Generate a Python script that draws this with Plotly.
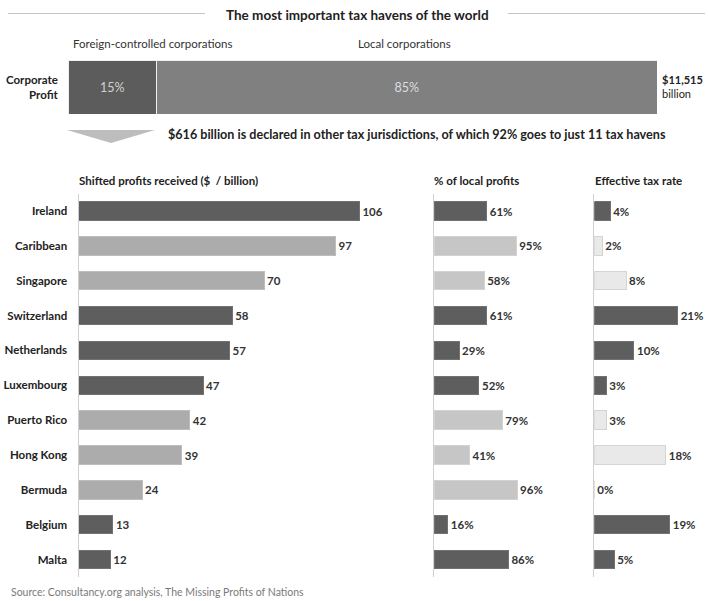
import plotly.graph_objects as go

W, H = 708, 601

# ---- data ----
countries = ["Ireland", "Caribbean", "Singapore", "Switzerland", "Netherlands",
             "Luxembourg", "Puerto Rico", "Hong Kong", "Bermuda", "Belgium", "Malta"]
shifted_profits = [106, 97, 70, 58, 57, 47, 42, 39, 24, 13, 12]
local_profit_share = [61, 95, 58, 61, 29, 52, 79, 41, 96, 16, 86]
effective_tax_rate = [4, 2, 8, 21, 10, 3, 3, 18, 0, 19, 5]
dark_group = [True, False, False, True, True, True, False, False, False, True, True]

profit_parts = ["Foreign-controlled corporations", "Local corporations"]
profit_shares = [15, 85]

FONT = "Lato"
DARK = "#5e5e5e"


def px(x):
    return x / W


def py(y):
    return 1 - y / H


def colors(light):
    return [DARK if d else light for d in dark_group]


def edge(light_edge):
    return ["#727272" if d else light_edge for d in dark_group]


fig = go.Figure()

panels = [
    ("x", "y", shifted_profits, [str(v) for v in shifted_profits], "#acacac", "#bdbdbd"),
    ("x2", "y2", local_profit_share, [f"{v}%" for v in local_profit_share], "#c6c6c6", "#d2d2d2"),
    ("x3", "y3", effective_tax_rate, [f"{v}%" for v in effective_tax_rate], "#e9e9e9", "#d4d4d4"),
]
for xa, ya, vals, txt, light, ledge in panels:
    fig.add_trace(go.Bar(
        x=vals, y=countries, orientation="h", xaxis=xa, yaxis=ya,
        marker=dict(color=colors(light), line=dict(color=edge(ledge), width=1)),
        width=0.53, text=txt, textposition="outside", cliponaxis=False,
        textfont=dict(family=FONT, size=11.5, color="#333333", weight=700),
        hoverinfo="skip", showlegend=False,
    ))

# top stacked bar
top_colors = ["#5c5c5c", "#808080"]
top_text_colors = ["#d0d0d0", "#dddddd"]
for part, share, c, tc in zip(profit_parts, profit_shares, top_colors, top_text_colors):
    fig.add_trace(go.Bar(
        x=[share], y=["Corporate Profit"], orientation="h", xaxis="x4", yaxis="y4",
        marker=dict(color=c, line=dict(color="#f0f0f0", width=1)),
        width=1, text=[f"{share}%"], textposition="inside", insidetextanchor="middle",
        textfont=dict(family=FONT, size=12.5, color=tc), hoverinfo="skip", showlegend=False,
    ))

ydom = [py(577), py(193.6)]
yax_common = dict(type="category", categoryorder="array", categoryarray=countries,
                  range=[10.5, -0.5], showgrid=False, zeroline=False,
                  showline=True, linecolor="#d0d0d0", linewidth=1, ticks="",
                  fixedrange=True)

fig.update_layout(
    width=W, height=H,
    margin=dict(l=0, r=0, t=0, b=0),
    paper_bgcolor="white", plot_bgcolor="white",
    barmode="stack",
    font=dict(family=FONT, color="#333333"),
    xaxis=dict(domain=[px(78.5), px(400)], range=[0, 321.5 / 2.65], visible=False, anchor="y"),
    xaxis2=dict(domain=[px(434), px(575)], range=[0, 141 / 0.865], visible=False, anchor="y2"),
    xaxis3=dict(domain=[px(594.3), px(704)], range=[0, 109.7 / 3.97], visible=False, anchor="y3"),
    xaxis4=dict(domain=[px(68), px(657)], range=[0, 100], visible=False, anchor="y4"),
    yaxis=dict(domain=ydom, anchor="x", showticklabels=True, ticklabelstandoff=8,
               tickfont=dict(family=FONT, size=11.5, color="#222222", weight=700), **yax_common),
    yaxis2=dict(domain=ydom, anchor="x2", showticklabels=False, **yax_common),
    yaxis3=dict(domain=ydom, anchor="x3", showticklabels=False, **yax_common),
    yaxis4=dict(domain=[py(114), py(60)], anchor="x4", range=[-0.5, 0.5], visible=False),
)

ann = []


def note(text, x, y, size=11.5, weight=400, color="#333333", xanchor="left", align="left"):
    ann.append(dict(text=text, x=px(x), y=py(y), xref="paper", yref="paper",
                    xanchor=xanchor, yanchor="middle", align=align, showarrow=False,
                    font=dict(family=FONT, size=size, color=color, weight=weight)))


note("The most important tax havens of the world", 357, 15, size=13.5, weight=700,
     color="#222222", xanchor="center", align="center")
note("Foreign-controlled corporations", 71, 43, size=11.5)
note("Local corporations", 404, 43, size=11.5, xanchor="center", align="center")
note("Corporate<br>Profit", 61, 87, size=11.5, weight=700, color="#222222",
     xanchor="right", align="right")
note("<b>$11,515</b><br>billion", 659.5, 87, size=11, color="#222222")
note("$616 billion is declared in other tax jurisdictions, of which 92% goes to just 11 tax havens",
     166, 134, size=12.6, weight=700, color="#222222")
note("Shifted profits received ($\u00a0 / billion)", 76.5, 181, size=11.5, weight=700,
     color="#222222")
note("% of local profits", 432, 181, size=11.5, weight=700, color="#222222")
note("Effective tax rate", 592.5, 181, size=11.5, weight=700, color="#222222")
note("Source: Consultancy.org analysis, The Missing Profits of Nations", 9, 592,
     size=10.5, color="#7a7a7a")
fig.update_layout(annotations=ann)

shapes = [
    dict(type="line", xref="paper", yref="paper", x0=px(8), x1=px(205), y0=py(13.5), y1=py(13.5),
         line=dict(color="#c4c4c4", width=1)),
    dict(type="line", xref="paper", yref="paper", x0=px(508), x1=px(705), y0=py(13.5), y1=py(13.5),
         line=dict(color="#c4c4c4", width=1)),
    dict(type="path", xref="paper", yref="paper",
         path=f"M {px(67)},{py(130)} L {px(155)},{py(130)} L {px(111)},{py(143)} Z",
         fillcolor="#bdbdbd", line=dict(width=0)),
]
fig.update_layout(shapes=shapes)

fig.write_html("out.html")
